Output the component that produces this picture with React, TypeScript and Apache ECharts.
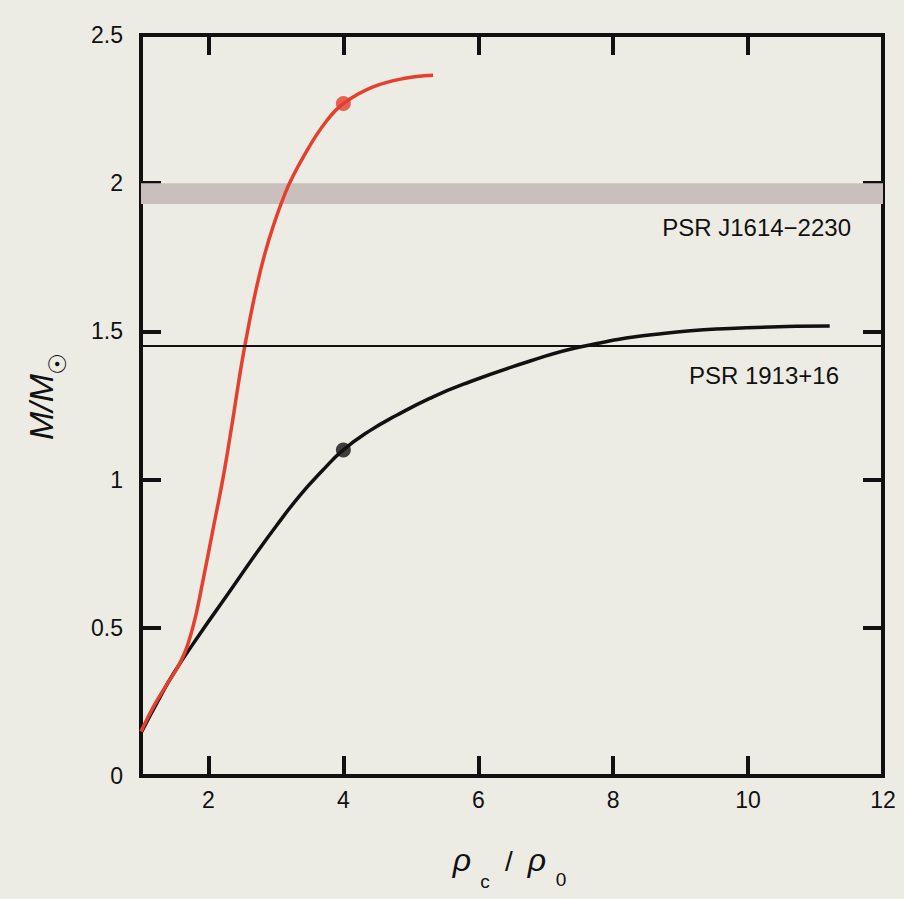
import React, { useEffect, useRef } from "react";
import * as echarts from "echarts";

// ---- data ----
const xTicks = [2, 4, 6, 8, 10, 12];
const yTicks = [0, 0.5, 1, 1.5, 2, 2.5];

const blackX = [1, 1.28, 1.48, 1.875, 2.27, 2.665, 3.01, 3.36, 3.68, 4.0, 4.4, 4.79, 5.28, 5.78, 6.77, 7.56, 8.74, 9.73, 11.21];
const blackY = [0.145, 0.265, 0.345, 0.48, 0.608, 0.737, 0.845, 0.948, 1.028, 1.1, 1.166, 1.217, 1.274, 1.322, 1.4, 1.45, 1.493, 1.51, 1.518];

const redX = [1, 1.2, 1.4, 1.55, 1.68, 1.8, 1.92, 2.07, 2.22, 2.345, 2.54, 2.81, 3.135, 3.46, 3.75, 4.0, 4.44, 4.89, 5.33];
const redY = [0.15, 0.24, 0.315, 0.37, 0.435, 0.53, 0.661, 0.835, 1.01, 1.18, 1.452, 1.74, 1.965, 2.11, 2.21, 2.269, 2.325, 2.353, 2.364];

const blackDot = [4, 1.1];
const redDot = [4, 2.269];

const bandLow = 1.93;
const bandHigh = 2.0;
const psr1913 = 1.45;

const labelJ1614 = "PSR J1614\u22122230";
const label1913 = "PSR 1913+16";

const INK = "#111111";
const RED = "#e5402e";
const PAPER = "#edece4";
const FONT = "'Liberation Sans', Arial, sans-serif";

function zip(xs: number[], ys: number[]) {
  return xs.map((x, i) => [x, ys[i]]);
}

export default function App() {
  const ref = useRef<HTMLDivElement>(null);

  useEffect(() => {
    document.body.style.margin = "0";
    document.body.style.background = PAPER;
    if (!ref.current) return;
    const chart = echarts.init(ref.current, undefined, { renderer: "svg" });

    const axisLine = { show: true, onZero: false, lineStyle: { color: INK, width: 4, cap: "square" } };
    const tick = (vals: number[]) => ({
      show: true,
      inside: true,
      length: 20,
      customValues: vals,
      lineStyle: { color: INK, width: 4 },
    });

    chart.setOption({
      animation: false,
      backgroundColor: PAPER,
      grid: { left: 141, right: 21, top: 35, bottom: 123, containLabel: false },
      xAxis: [
        {
          type: "value",
          min: 1,
          max: 12,
          position: "bottom",
          axisLine,
          axisTick: tick(xTicks),
          axisLabel: {
            customValues: xTicks,
            fontSize: 23,
            color: INK,
            margin: 12,
            fontFamily: FONT,
          },
          splitLine: { show: false },
        },
        {
          type: "value",
          min: 1,
          max: 12,
          position: "top",
          axisLine,
          axisTick: tick(xTicks),
          axisLabel: { show: false },
          splitLine: { show: false },
        },
      ],
      yAxis: [
        {
          type: "value",
          min: 0,
          max: 2.5,
          interval: 0.5,
          position: "left",
          axisLine,
          axisTick: tick(yTicks),
          axisLabel: {
            customValues: yTicks,
            fontSize: 23,
            color: INK,
            margin: 18,
            fontFamily: FONT,
          },
          splitLine: { show: false },
        },
        {
          type: "value",
          min: 0,
          max: 2.5,
          interval: 0.5,
          position: "right",
          axisLine,
          axisTick: tick(yTicks),
          axisLabel: { show: false },
          splitLine: { show: false },
        },
      ],
      series: [
        {
          type: "line",
          name: "refs",
          data: [],
          silent: true,
          markArea: {
            silent: true,
            itemStyle: { color: "#c9c0bd" },
            data: [[{ yAxis: bandLow }, { yAxis: bandHigh }]],
          },
          markLine: {
            silent: true,
            symbol: ["none", "none"],
            label: { show: false },
            lineStyle: { color: INK, width: 2, type: "solid" },
            data: [{ yAxis: psr1913 }],
          },
        },
        {
          type: "line",
          name: "black",
          data: zip(blackX, blackY),
          smooth: 0.5,
          showSymbol: false,
          lineStyle: { color: INK, width: 3.5 },
          z: 3,
        },
        {
          type: "line",
          name: "red",
          data: zip(redX, redY),
          smooth: 0.4,
          showSymbol: false,
          lineStyle: { color: RED, width: 3.5 },
          z: 4,
        },
        {
          type: "scatter",
          data: [blackDot],
          symbolSize: 15,
          itemStyle: { color: INK },
          z: 5,
        },
        {
          type: "scatter",
          data: [redDot],
          symbolSize: 15,
          itemStyle: { color: RED },
          z: 5,
        },
      ],
      graphic: [
        {
          type: "text",
          x: 851,
          y: 227,
          style: {
            text: labelJ1614,
            font: `24px ${FONT}`,
            fill: INK,
            textAlign: "right",
            textVerticalAlign: "middle",
          },
        },
        {
          type: "text",
          x: 839,
          y: 375,
          style: {
            text: label1913,
            font: `24px ${FONT}`,
            fill: INK,
            textAlign: "right",
            textVerticalAlign: "middle",
          },
        },
        {
          type: "group",
          x: 45,
          y: 398,
          rotation: Math.PI / 2,
          children: [
            {
              type: "text",
              x: -9,
              y: -4,
              style: {
                text: "M/M",
                font: `italic 34px ${FONT}`,
                fill: INK,
                textAlign: "center",
                textVerticalAlign: "middle",
              },
            },
            {
              type: "text",
              x: 34,
              y: 13,
              style: {
                text: "\u2609",
                font: `24px 'DejaVu Sans', sans-serif`,
                fill: INK,
                textAlign: "center",
                textVerticalAlign: "middle",
              },
            },
          ],
        },
        {
          type: "text",
          x: 462,
          y: 860,
          style: {
            text: "\u03c1",
            font: `italic 32px ${FONT}`,
            fill: INK,
            textAlign: "center",
            textVerticalAlign: "middle",
          },
        },
        {
          type: "text",
          x: 485,
          y: 881,
          style: {
            text: "c",
            font: `19px ${FONT}`,
            fill: INK,
            textAlign: "center",
            textVerticalAlign: "middle",
          },
        },
        {
          type: "text",
          x: 509,
          y: 861,
          style: {
            text: "/",
            font: `28px ${FONT}`,
            fill: INK,
            textAlign: "center",
            textVerticalAlign: "middle",
          },
        },
        {
          type: "text",
          x: 537,
          y: 860,
          style: {
            text: "\u03c1",
            font: `italic 32px ${FONT}`,
            fill: INK,
            textAlign: "center",
            textVerticalAlign: "middle",
          },
        },
        {
          type: "text",
          x: 561,
          y: 879,
          style: {
            text: "0",
            font: `19px ${FONT}`,
            fill: INK,
            textAlign: "center",
            textVerticalAlign: "middle",
          },
        },
      ],
    });

    return () => chart.dispose();
  }, []);

  return <div ref={ref} style={{ width: 904, height: 899 }} />;
}
